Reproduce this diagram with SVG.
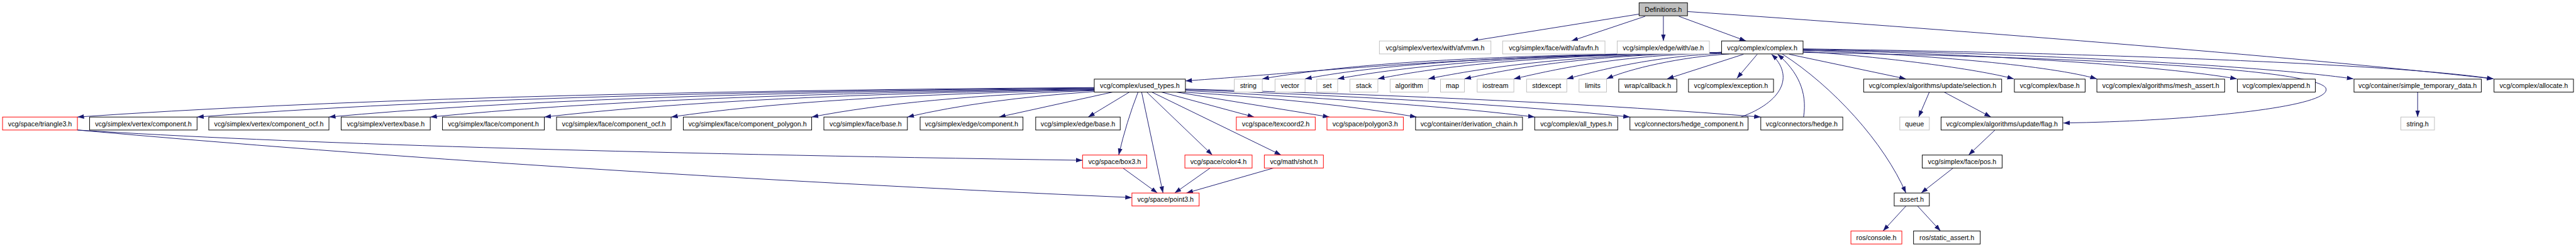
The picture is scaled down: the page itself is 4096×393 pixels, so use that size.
<svg xmlns="http://www.w3.org/2000/svg" width="4096" height="393" viewBox="0 0 4096 393">
<defs>
<style>
.n rect{fill:#fff;stroke:#000;stroke-width:1.2}
.g rect{stroke:#bfbfbf}
.r rect{stroke:#ff0000}
.d rect{fill:#bfbfbf}
.n text{font-family:"Liberation Sans",Arial,Helvetica,sans-serif;font-size:13.3px;text-anchor:middle;fill:#000}
.e path{fill:none;stroke:#191970;stroke-width:1.2;marker-end:url(#a)}
</style>
<marker id="a" markerUnits="userSpaceOnUse" viewBox="0 0 14 10" markerWidth="14" markerHeight="10" refX="13" refY="4.5" orient="auto"><path d="M0,0 L13,4.5 L0,9 z" fill="#191970"/></marker>
</defs>
<rect width="4096" height="393" fill="#fff"/>
<g transform="scale(0.80965)">
<g id="edges" class="e">
<path d="M3219,27.7 L2890,80.5"/>
<path d="M3231,32 L3086,80.5"/>
<path d="M3266.7,32 L3266.7,80.5"/>
<path d="M3297,32 L3429,80.5"/>
<path d="M3314,22.7 C3800,56 4500,110 4897,155"/>
<path d="M3382,103 C2850,110 2600,140 2328,159"/>
<path d="M3382,103 C2900,108 2650,125 2479,155"/>
<path d="M3382,103 C2950,108 2700,128 2563,155"/>
<path d="M3382,103 C2980,108 2760,130 2627,155"/>
<path d="M3382,103 C3020,108 2830,130 2706,155"/>
<path d="M3382,103 C3080,108 2920,132 2805,155"/>
<path d="M3382,103 C3120,108 2980,132 2876,155"/>
<path d="M3382,104 C3180,108 3060,135 2973,155"/>
<path d="M3385,105 C3250,110 3140,138 3077,155"/>
<path d="M3396,106 C3300,112 3200,135 3155,155"/>
<path d="M3424,106.7 L3274,155"/>
<path d="M3451,106.7 L3411,154"/>
<path d="M3514,106.7 L3743,155"/>
<path d="M3541,101 C3700,112 3880,135 3955,155"/>
<path d="M3541,99 C3800,108 4030,130 4118,155"/>
<path d="M3541,98 C3900,106 4250,130 4393,155"/>
<path d="M3541,97 C4000,105 4450,130 4622,155"/>
<path d="M3541,96 C4100,104 4700,125 4897,155"/>
<path d="M3541,103 C4200,115 4540,140 4567,172 C4590,210 4300,238 4052,241.7"/>
<path d="M3500,106 C3600,170 3700,280 3743,379.3"/>
<path d="M3419,230 C3500,200 3525,150 3479,106.5"/>
<path d="M3542,230 C3550,180 3530,140 3491,106.5"/>
<path d="M3789,181 L3768,230"/>
<path d="M3818,181 L3910,230"/>
<path d="M3918,255.5 L3866,304.7"/>
<path d="M3836,330 L3773,379.3"/>
<path d="M3743,405 L3698,454"/>
<path d="M3766,405 L3811,454"/>
<path d="M4748,181 L4748,230"/>
<path d="M2149,172 Q854,181 152,230"/>
<path d="M2149,173 Q1000,182 387,230"/>
<path d="M2149,174 Q1150,183 646,230"/>
<path d="M2149,175 Q1300,185 845,230"/>
<path d="M2149,176 Q1450,186 1069,230"/>
<path d="M2149,177 Q1600,188 1318,230"/>
<path d="M2149,178 Q1800,190 1594,230"/>
<path d="M2149,180 Q1930,195 1782,230"/>
<path d="M2185,181 L1962,230"/>
<path d="M2218,181 L2137,230"/>
<path d="M2235,181 Q2212,240 2197,304.7"/>
<path d="M2242,181 L2284,379.3"/>
<path d="M2252,181 L2381,304.7"/>
<path d="M2262,181 L2516,304.7"/>
<path d="M2281,181 L2463,230"/>
<path d="M2310,181 L2611,230"/>
<path d="M2323,181 Q2600,198 2782,230"/>
<path d="M2328,178 Q2800,203 3014,230"/>
<path d="M2328,176 Q2900,198 3201,230"/>
<path d="M2328,175 Q3000,193 3458,230"/>
<path d="M152,255.5 Q760,294.5 2126,315"/>
<path d="M152,255.5 Q1070,337.6 2223,388.3"/>
<path d="M2205,330 L2273,379.3"/>
<path d="M2377,330 L2307,379.3"/>
<path d="M2502,330 L2330,379.3"/>
</g>
<g id="n_definitions" class="n d"><rect x="3219" y="5.5" width="95" height="25.5"/><text x="3266.5" y="23.2">Definitions.h</text></g>
<g id="n_afvmvn" class="n g"><rect x="2709" y="80.5" width="219" height="25.5"/><text x="2818.5" y="98.2">vcg/simplex/vertex/with/afvmvn.h</text></g>
<g id="n_afavfn" class="n g"><rect x="2951" y="80.5" width="201" height="25.5"/><text x="3051.5" y="98.2">vcg/simplex/face/with/afavfn.h</text></g>
<g id="n_ae" class="n g"><rect x="3176" y="80.5" width="181" height="25.5"/><text x="3266.5" y="98.2">vcg/simplex/edge/with/ae.h</text></g>
<g id="n_complex" class="n"><rect x="3381" y="80.5" width="160" height="25.5"/><text x="3461" y="98.2">vcg/complex/complex.h</text></g>
<g id="n_used_types" class="n"><rect x="2149" y="155.5" width="179" height="25.5"/><text x="2238.5" y="173.2">vcg/complex/used_types.h</text></g>
<g id="n_string" class="n g"><rect x="2424" y="155.5" width="55" height="25.5"/><text x="2451.5" y="173.2">string</text></g>
<g id="n_vector" class="n g"><rect x="2504" y="155.5" width="59" height="25.5"/><text x="2533.5" y="173.2">vector</text></g>
<g id="n_set" class="n g"><rect x="2586" y="155.5" width="41" height="25.5"/><text x="2606.5" y="173.2">set</text></g>
<g id="n_stack" class="n g"><rect x="2651" y="155.5" width="55" height="25.5"/><text x="2678.5" y="173.2">stack</text></g>
<g id="n_algorithm" class="n g"><rect x="2730" y="155.5" width="75" height="25.5"/><text x="2767.5" y="173.2">algorithm</text></g>
<g id="n_map" class="n g"><rect x="2829" y="155.5" width="47" height="25.5"/><text x="2852.5" y="173.2">map</text></g>
<g id="n_iostream" class="n g"><rect x="2901" y="155.5" width="72" height="25.5"/><text x="2937" y="173.2">iostream</text></g>
<g id="n_stdexcept" class="n g"><rect x="2998" y="155.5" width="79" height="25.5"/><text x="3037.5" y="173.2">stdexcept</text></g>
<g id="n_limits" class="n g"><rect x="3101" y="155.5" width="54" height="25.5"/><text x="3128" y="173.2">limits</text></g>
<g id="n_callback" class="n"><rect x="3179" y="155.5" width="114" height="25.5"/><text x="3236" y="173.2">wrap/callback.h</text></g>
<g id="n_exception" class="n"><rect x="3316" y="155.5" width="167" height="25.5"/><text x="3399.5" y="173.2">vcg/complex/exception.h</text></g>
<g id="n_selection" class="n"><rect x="3660" y="155.5" width="271" height="25.5"/><text x="3795.5" y="173.2">vcg/complex/algorithms/update/selection.h</text></g>
<g id="n_base" class="n"><rect x="3956" y="155.5" width="139" height="25.5"/><text x="4025.5" y="173.2">vcg/complex/base.h</text></g>
<g id="n_mesh_assert" class="n"><rect x="4118" y="155.5" width="251" height="25.5"/><text x="4243.5" y="173.2">vcg/complex/algorithms/mesh_assert.h</text></g>
<g id="n_append" class="n"><rect x="4394" y="155.5" width="153" height="25.5"/><text x="4470.5" y="173.2">vcg/complex/append.h</text></g>
<g id="n_simple_temp" class="n"><rect x="4623" y="155.5" width="250" height="25.5"/><text x="4748" y="173.2">vcg/container/simple_temporary_data.h</text></g>
<g id="n_allocate" class="n"><rect x="4898" y="155.5" width="156" height="25.5"/><text x="4976" y="173.2">vcg/complex/allocate.h</text></g>
<g id="n_triangle3" class="n r"><rect x="5" y="230" width="147" height="25.5"/><text x="78.5" y="247.7">vcg/space/triangle3.h</text></g>
<g id="n_v_component" class="n"><rect x="176" y="230" width="211" height="25.5"/><text x="281.5" y="247.7">vcg/simplex/vertex/component.h</text></g>
<g id="n_v_component_ocf" class="n"><rect x="410" y="230" width="236" height="25.5"/><text x="528" y="247.7">vcg/simplex/vertex/component_ocf.h</text></g>
<g id="n_v_base" class="n"><rect x="670" y="230" width="175" height="25.5"/><text x="757.5" y="247.7">vcg/simplex/vertex/base.h</text></g>
<g id="n_f_component" class="n"><rect x="869" y="230" width="200" height="25.5"/><text x="969" y="247.7">vcg/simplex/face/component.h</text></g>
<g id="n_f_component_ocf" class="n"><rect x="1093" y="230" width="225" height="25.5"/><text x="1205.5" y="247.7">vcg/simplex/face/component_ocf.h</text></g>
<g id="n_f_component_polygon" class="n"><rect x="1342" y="230" width="252" height="25.5"/><text x="1468" y="247.7">vcg/simplex/face/component_polygon.h</text></g>
<g id="n_f_base" class="n"><rect x="1618" y="230" width="164" height="25.5"/><text x="1700" y="247.7">vcg/simplex/face/base.h</text></g>
<g id="n_e_component" class="n"><rect x="1807" y="230" width="202" height="25.5"/><text x="1908" y="247.7">vcg/simplex/edge/component.h</text></g>
<g id="n_e_base" class="n"><rect x="2034" y="230" width="166" height="25.5"/><text x="2117" y="247.7">vcg/simplex/edge/base.h</text></g>
<g id="n_texcoord2" class="n r"><rect x="2428" y="230" width="155" height="25.5"/><text x="2505.5" y="247.7">vcg/space/texcoord2.h</text></g>
<g id="n_polygon3" class="n r"><rect x="2606" y="230" width="150" height="25.5"/><text x="2681" y="247.7">vcg/space/polygon3.h</text></g>
<g id="n_derivation_chain" class="n"><rect x="2780" y="230" width="210" height="25.5"/><text x="2885" y="247.7">vcg/container/derivation_chain.h</text></g>
<g id="n_all_types" class="n"><rect x="3014" y="230" width="163" height="25.5"/><text x="3095.5" y="247.7">vcg/complex/all_types.h</text></g>
<g id="n_hedge_component" class="n"><rect x="3201" y="230" width="232" height="25.5"/><text x="3317" y="247.7">vcg/connectors/hedge_component.h</text></g>
<g id="n_hedge" class="n"><rect x="3458" y="230" width="161" height="25.5"/><text x="3538.5" y="247.7">vcg/connectors/hedge.h</text></g>
<g id="n_queue" class="n g"><rect x="3731" y="230" width="58" height="25.5"/><text x="3760" y="247.7">queue</text></g>
<g id="n_flag" class="n"><rect x="3812" y="230" width="239" height="25.5"/><text x="3931.5" y="247.7">vcg/complex/algorithms/update/flag.h</text></g>
<g id="n_string_h" class="n g"><rect x="4715" y="230" width="66" height="25.5"/><text x="4748" y="247.7">string.h</text></g>
<g id="n_box3" class="n r"><rect x="2126" y="304.7" width="126" height="25.5"/><text x="2189" y="322.4">vcg/space/box3.h</text></g>
<g id="n_color4" class="n r"><rect x="2327" y="304.7" width="132" height="25.5"/><text x="2393" y="322.4">vcg/space/color4.h</text></g>
<g id="n_shot" class="n r"><rect x="2483" y="304.7" width="116" height="25.5"/><text x="2541" y="322.4">vcg/math/shot.h</text></g>
<g id="n_pos" class="n"><rect x="3775" y="304.7" width="157" height="25.5"/><text x="3853.5" y="322.4">vcg/simplex/face/pos.h</text></g>
<g id="n_point3" class="n r"><rect x="2223" y="379.3" width="132" height="25.5"/><text x="2289" y="397">vcg/space/point3.h</text></g>
<g id="n_assert" class="n"><rect x="3720" y="379.3" width="69" height="25.5"/><text x="3754.5" y="397">assert.h</text></g>
<g id="n_console" class="n r"><rect x="3635" y="454" width="100" height="25.5"/><text x="3685" y="471.7">ros/console.h</text></g>
<g id="n_static_assert" class="n"><rect x="3758" y="454" width="131" height="25.5"/><text x="3823.5" y="471.7">ros/static_assert.h</text></g>
</g>
</svg>
